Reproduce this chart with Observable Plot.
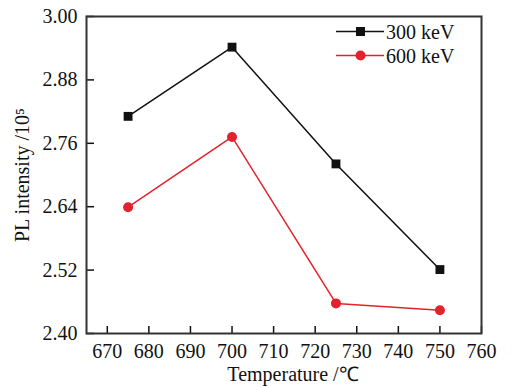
<!DOCTYPE html>
<html><head><meta charset="utf-8">
<script src="https://cdn.jsdelivr.net/npm/d3@7"></script>
<script src="https://cdn.jsdelivr.net/npm/@observablehq/plot@0.6"></script>
<style>
body{margin:0;background:#fff;}
#wrap{position:relative;width:513px;height:387px;font-family:"Liberation Serif",serif;}
#legend{position:absolute;left:336px;top:20px;font-size:20px;line-height:24px;color:#111;}
#legend div{display:flex;align-items:center;}
#legend svg{margin-right:2px;}
</style></head>
<body><div id="wrap"><div id="legend"></div></div>
<script>
const temps = [675, 700, 725, 750];
const kev300 = [2.811, 2.942, 2.721, 2.521];
const kev600 = [2.639, 2.772, 2.457, 2.444];
const series = ["300 keV", "600 keV"];
const colors = ["#111111", "#e3232c"];
const xTicks = [670, 680, 690, 700, 710, 720, 730, 740, 750, 760];
const yTicks = [2.40, 2.52, 2.64, 2.76, 2.88, 3.00];

const data = [];
temps.forEach((t, i) => {
  data.push({t, v: kev300[i], s: series[0]});
  data.push({t, v: kev600[i], s: series[1]});
});
const d300 = data.filter(d => d.s === series[0]);
const d600 = data.filter(d => d.s === series[1]);

const chart = Plot.plot({
  width: 513, height: 387,
  marginLeft: 86, marginRight: 32, marginTop: 16, marginBottom: 54,
  style: {fontFamily: "Liberation Serif, serif", fontSize: "20px", color: "#111", background: "#fff"},
  x: {domain: [665, 760]},
  y: {domain: [2.40, 3.00]},
  marks: [
    Plot.axisX({ticks: xTicks, tickSize: -7, tickPadding: 17, tickFormat: d => String(d), label: "Temperature /℃", labelAnchor: "center", labelArrow: "none", labelOffset: 47, fontSize: 20, strokeWidth: 1.5}),
    Plot.axisY({ticks: yTicks, tickSize: -8, tickPadding: 17, tickFormat: d => d.toFixed(2), label: "PL intensity /10⁵", labelAnchor: "center", labelOffset: 72, labelArrow: "none", fontSize: 20, strokeWidth: 1.5}),
    Plot.line(d300, {x: "t", y: "v", stroke: colors[0], strokeWidth: 1.5}),
    Plot.line(d600, {x: "t", y: "v", stroke: colors[1], strokeWidth: 1.5}),
    Plot.dot(d300, {x: "t", y: "v", symbol: "square", r: 5, fill: colors[0]}),
    Plot.dot(d600, {x: "t", y: "v", symbol: "circle", r: 5, fill: colors[1]}),
    Plot.frame({stroke: "#333", strokeWidth: 2})
  ]
});
document.getElementById("wrap").appendChild(chart);

// shift x-axis label right, as in the reference
chart.querySelectorAll("text").forEach(t => {
  if (t.textContent === "Temperature /℃") t.setAttribute("transform", (t.getAttribute("transform") || "") + " translate(9,0)");
});

const leg = document.getElementById("legend");
series.forEach((s, i) => {
  const row = document.createElement("div");
  const mk = i === 0
    ? `<rect x="20" y="7" width="9" height="9" fill="${colors[i]}"/>`
    : `<circle cx="24.5" cy="11.5" r="5" fill="${colors[i]}"/>`;
  row.innerHTML = `<svg width="48" height="24"><line x1="0" x2="48" y1="11.5" y2="11.5" stroke="${colors[i]}" stroke-width="1.5"/>${mk}</svg><span>${s}</span>`;
  leg.appendChild(row);
});
</script></body></html>
